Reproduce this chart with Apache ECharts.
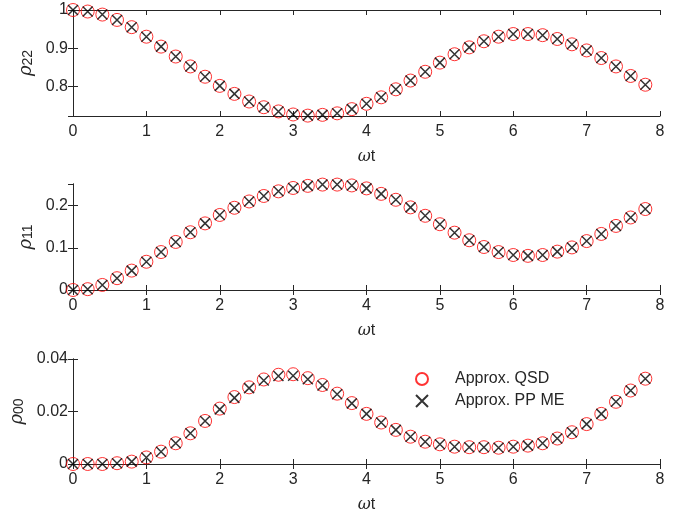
<!DOCTYPE html>
<html>
<head>
<meta charset="utf-8">
<script src="https://cdn.jsdelivr.net/npm/echarts@6/dist/echarts.min.js"></script>
<style>html,body{margin:0;padding:0;background:#fff}#c{width:690px;height:518px}</style>
</head>
<body>
<div id="c"></div>
<script>
const xs = [0,0.2,0.4,0.6,0.8,1.0,1.2,1.4,1.6,1.8,2.0,2.2,2.4,2.6,2.8,3.0,3.2,3.4,3.6,3.8,
            4.0,4.2,4.4,4.6,4.8,5.0,5.2,5.4,5.6,5.8,6.0,6.2,6.4,6.6,6.8,7.0,7.2,7.4,7.6,7.8];
const rho22QSD = [1.000,0.996,0.988,0.974,0.955,0.930,0.904,0.878,0.852,0.825,0.801,0.780,0.760,0.745,0.734,0.726,0.723,0.725,0.729,0.740,
                  0.754,0.771,0.792,0.815,0.838,0.862,0.884,0.902,0.918,0.930,0.937,0.937,0.934,0.924,0.910,0.894,0.874,0.852,0.827,0.804];
const rho22ME  = [1.000,0.996,0.988,0.974,0.955,0.930,0.904,0.878,0.852,0.825,0.801,0.780,0.760,0.745,0.734,0.726,0.723,0.725,0.729,0.740,
                  0.754,0.771,0.792,0.815,0.838,0.862,0.884,0.902,0.918,0.930,0.937,0.937,0.934,0.924,0.910,0.894,0.874,0.852,0.827,0.804];
const rho11QSD = [0.000,0.002,0.012,0.028,0.046,0.067,0.090,0.114,0.137,0.158,0.178,0.195,0.210,0.223,0.234,0.242,0.247,0.250,0.250,0.248,
                  0.241,0.228,0.214,0.196,0.176,0.156,0.136,0.118,0.102,0.090,0.083,0.081,0.083,0.091,0.101,0.116,0.133,0.152,0.172,0.192];
const rho11ME  = [0.000,0.002,0.012,0.028,0.046,0.067,0.090,0.114,0.137,0.158,0.178,0.195,0.210,0.223,0.234,0.242,0.247,0.250,0.250,0.248,
                  0.241,0.228,0.214,0.196,0.176,0.156,0.136,0.118,0.102,0.090,0.083,0.081,0.083,0.091,0.101,0.116,0.133,0.152,0.172,0.192];
const rho00QSD = [0.0000,0.0000,0.0000,0.0003,0.0009,0.0025,0.0047,0.0079,0.0117,0.0164,0.0211,0.0255,0.0292,0.0322,0.0340,0.0342,0.0327,0.0301,0.0268,0.0232,
                  0.0191,0.0158,0.0130,0.0104,0.0085,0.0075,0.0066,0.0064,0.0064,0.0062,0.0066,0.0070,0.0079,0.0097,0.0121,0.0152,0.0191,0.0237,0.0280,0.0325];
const rho00ME  = [0.0000,0.0000,0.0000,0.0003,0.0009,0.0025,0.0047,0.0079,0.0117,0.0164,0.0208,0.0252,0.0289,0.0318,0.0335,0.0336,0.0323,0.0299,0.0266,0.0231,
                  0.0191,0.0158,0.0130,0.0104,0.0085,0.0075,0.0066,0.0064,0.0064,0.0062,0.0066,0.0070,0.0079,0.0097,0.0121,0.0152,0.0191,0.0237,0.0280,0.0325];
const xTicks = [0,1,2,3,4,5,6,7,8];
const panels = [
  {sub:'22', qsd:rho22QSD, me:rho22ME, min:0.722, max:1.0, split:3},
  {sub:'11', qsd:rho11QSD, me:rho11ME, min:0, max:0.2514, split:3},
  {sub:'00', qsd:rho00QSD, me:rho00ME, min:0, max:0.04, split:2}
];
const nameQSD = 'Approx. QSD', nameME = 'Approx. PP ME';

const FONT = '"Liberation Sans", Arial, Helvetica, sans-serif';
const AX = '#262626';
const gridPos = [
  {left:73, top:10, width:587, height:106},
  {left:73, top:184, width:587, height:106},
  {left:73, top:359, width:587, height:105}
];
const crossPath = 'path://M0,0L10,10M0,10L10,0';

const grid = [], xAxis = [], yAxis = [], series = [];
panels.forEach((p, i) => {
  grid.push(Object.assign({containLabel:false, outerBoundsMode:'none'}, gridPos[i]));
  const common = {type:'value', gridIndex:i, min:xTicks[0], max:xTicks[xTicks.length-1], interval:1,
    splitLine:{show:false}, axisLine:{show:true, lineStyle:{color:AX, width:1}},
    axisTick:{show:true, inside:true, length:5, lineStyle:{color:AX}}};
  xAxis.push(Object.assign({}, common, {position:'bottom',
    axisLabel:{color:AX, fontSize:16, fontFamily:FONT, margin:8},
    name:'{w|ω}t', nameLocation:'middle', nameGap:33,
    nameTextStyle:{color:AX, fontSize:16, fontFamily:FONT, rich:{w:{fontStyle:'italic', fontSize:16, fontFamily:'"DejaVu Serif", serif', color:AX}}}
  }));
  xAxis.push(Object.assign({}, common, {position:'top', axisLabel:{show:false}}));
  const ycommon = {type:'value', gridIndex:i, min:p.min, max:p.max, splitNumber:p.split,
    splitLine:{show:false}, axisLine:{show:true, lineStyle:{color:AX, width:1}},
    axisTick:{show:true, inside:true, length:5, lineStyle:{color:AX}}};
  yAxis.push(Object.assign({}, ycommon, {position:'left',
    axisLabel:{color:AX, fontSize:16, fontFamily:FONT, margin:5, showMinLabel: i===0 ? false : true, showMaxLabel: i===1 ? false : true},
    name:'{r|ρ}{s|' + p.sub + '}', nameLocation:'middle', nameRotate:90, nameGap:27,
    nameTextStyle:{color:AX, fontFamily:FONT, rich:{
      r:{fontStyle:'italic', fontSize:18, fontFamily:'"DejaVu Serif", serif', color:AX, lineHeight:22, verticalAlign:'bottom'},
      s:{fontSize:14, fontFamily:FONT, color:AX, padding:[10,0,0,0], lineHeight:22, verticalAlign:'bottom'}}}
  }));
  yAxis.push(Object.assign({}, ycommon, {position:'right', axisLabel:{show:false}}));
  series.push({type:'scatter', name:nameQSD, xAxisIndex:2*i, yAxisIndex:2*i,
    data:xs.map((x, k) => [x, p.qsd[k]]), symbol:'circle', symbolSize:13,
    itemStyle:{color:'rgba(0,0,0,0)', borderColor:'#ff0000', borderWidth:1}, z:2});
  series.push({type:'scatter', name:nameME, xAxisIndex:2*i, yAxisIndex:2*i,
    data:xs.map((x, k) => [x, p.me[k]]), symbol:crossPath, symbolSize:10,
    itemStyle:{color:'rgba(0,0,0,0)', borderColor:'#000000', borderWidth:1.5}, z:3});
});

const chart = echarts.init(document.getElementById('c'), null, {renderer:'canvas'});
chart.setOption({
  animation:false,
  backgroundColor:'#ffffff',
  grid, xAxis, yAxis, series,
  legend:{orient:'vertical', left:410, top:366, itemWidth:12, itemHeight:12, itemGap:6,
    data:[nameQSD, nameME],
    textStyle:{color:AX, fontSize:16, fontFamily:FONT, padding:[0,0,0,22]}}
});
</script>
</body>
</html>
